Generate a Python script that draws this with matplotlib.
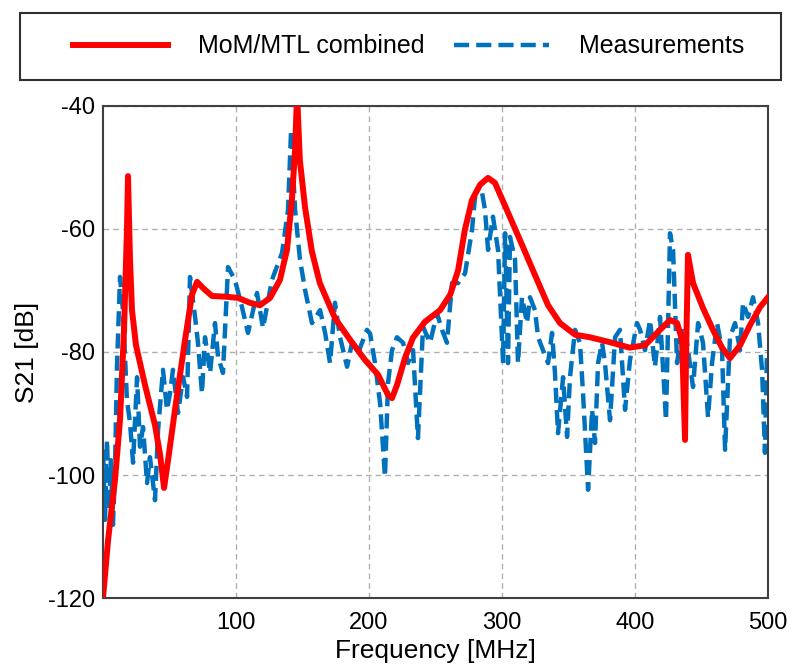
import matplotlib
matplotlib.use('Agg')
import matplotlib.pyplot as plt
from matplotlib.patches import Rectangle

plt.rcParams['font.family'] = ['Liberation Sans', 'DejaVu Sans']
plt.rcParams['axes.unicode_minus'] = False

# MoM/MTL combined model (frequency in MHz, S21 in dB)
model_freq = [0, 3.8, 9.0, 12.8, 15.8, 18.0, 18.8, 20.3, 21.8, 24.8, 31.6,
              39.1, 42.9, 45.9, 48.9, 54.1, 61.7, 66.9, 70.7, 75.2, 82.0,
              91.7, 101.5, 110.5, 118.0, 125.6, 133.0, 138.3, 142.0, 144.4,
              145.9, 148.0, 151.9, 157.0, 163.0, 174.4, 185.7, 197.0, 206.8,
              214.3, 217.3, 221.0, 227.0, 233.0, 242.0, 253.4, 261.0, 267.0,
              272.0, 277.4, 283.5, 289.5, 294.7, 302.0, 313.5, 324.8, 334.6,
              343.6, 355.0, 366.0, 381.0, 396.0, 407.5, 418.8, 426.3, 431.6,
              435.3, 437.6, 438.3, 439.8, 443.6, 451.0, 458.6, 465.4, 471.4,
              479.0, 486.5, 494.0, 500.0]
model_s21 = [-120, -110.6, -100.8, -91.0, -76.4, -60.2, -51.4, -65.0, -73.2,
             -78.9, -85.4, -91.9, -96.7, -102.1, -97.6, -89.4, -78.0, -70.7,
             -68.6, -69.6, -70.9, -71.0, -71.2, -72.0, -72.4, -71.2, -68.3,
             -63.4, -55.3, -47.2, -38.0, -48.8, -56.5, -63.6, -68.8, -74.5,
             -78.0, -81.3, -83.7, -87.0, -87.5, -85.4, -81.0, -77.7, -75.1,
             -73.2, -70.7, -66.7, -60.2, -55.3, -52.8, -51.7, -52.5, -56.1,
             -61.8, -67.5, -72.4, -75.3, -77.2, -77.6, -78.4, -79.3, -78.9,
             -76.4, -74.8, -75.3, -78.0, -94.3, -81.3, -64.2, -68.8, -72.8,
             -76.4, -79.3, -81.0, -78.9, -75.6, -72.7, -71.1]

# measurements
meas_freq = [0, 1.5, 3.0, 4.5, 6.0, 7.5, 9.0, 10.5, 12.8, 15.0, 18.0, 20.3,
             22.6, 25.6, 27.8, 30.1, 33.1, 35.3, 39.1, 41.4, 45.1, 48.1, 50.4,
             52.6, 56.4, 60.2, 63.2, 65.4, 69.2, 71.4, 74.4, 76.7, 80.5, 84.2,
             86.5, 90.2, 94.0, 99.2, 104.5, 109.0, 115.8, 120.3, 127.0, 134.6,
             139.1, 141.4, 144.4, 148.1, 151.9, 157.1, 163.2, 167.0, 170.7,
             174.4, 178.2, 183.5, 187.2, 191.7, 198.5, 200.8, 204.5, 208.3,
             212.0, 214.3, 217.3, 221.0, 225.6, 229.3, 233.1, 236.8, 240.6,
             245.9, 251.1, 254.9, 258.6, 262.4, 266.9, 272.2, 277.4, 279.7,
             285.0, 287.2, 289.5, 293.2, 297.0, 300.8, 302.3, 304.5, 306.0,
             309.8, 312.0, 315.0, 318.8, 321.0, 324.8, 327.1, 330.8, 334.6,
             337.6, 339.8, 342.1, 345.9, 348.9, 351.1, 354.9, 358.6, 360.9,
             364.7, 367.7, 369.9, 372.2, 375.2, 377.4, 381.2, 385.0, 388.7,
             392.5, 396.2, 401.5, 403.8, 407.5, 411.3, 415.0, 418.8, 423.3,
             426.3, 428.6, 431.6, 435.3, 439.1, 443.6, 447.4, 451.1, 454.9,
             457.9, 461.7, 465.4, 467.7, 471.4, 475.2, 479.0, 481.2, 485.0,
             488.7, 492.5, 495.5, 497.7, 499.2]
meas_s21 = [-95.9, -107.3, -94.3, -105.7, -97.6, -108.1, -99.2, -82.4, -67.8,
            -73.2, -87.8, -91.5, -98.0, -84.1, -95.4, -92.2, -101.3, -97.1,
            -104.1, -92.7, -82.9, -89.4, -86.7, -82.9, -89.9, -84.1, -87.3,
            -67.8, -74.3, -78.5, -86.7, -77.6, -83.4, -75.3, -80.8, -83.4,
            -66.2, -68.3, -72.7, -76.9, -70.4, -76.1, -68.3, -63.9, -56.9,
            -43.9, -56.9, -65.0, -69.9, -75.3, -73.2, -76.9, -81.8, -72.0,
            -77.6, -82.4, -78.5, -80.2, -76.4, -77.0, -81.8, -88.3, -100.3,
            -85.0, -79.7, -77.6, -78.5, -81.8, -79.7, -94.0, -75.9, -78.5,
            -73.7, -76.4, -78.5, -68.8, -68.8, -67.2, -60.2, -54.8, -54.1,
            -56.9, -63.4, -58.0, -63.4, -81.8, -60.7, -81.8, -61.3, -65.0,
            -81.8, -71.1, -75.3, -71.1, -73.2, -77.6, -79.7, -81.8, -76.9,
            -83.4, -93.2, -84.1, -93.8, -84.1, -76.4, -78.5, -86.7, -102.4,
            -89.4, -94.8, -81.8, -78.5, -81.8, -91.1, -77.6, -76.4, -89.4,
            -81.3, -75.3, -76.4, -79.7, -74.8, -82.4, -74.3, -91.1, -60.7,
            -63.4, -81.8, -75.9, -78.5, -85.7, -75.3, -78.5, -90.6, -81.8,
            -75.3, -79.7, -95.9, -77.6, -75.3, -79.7, -72.0, -74.3, -71.1,
            -75.3, -82.9, -96.4, -79.7]

x_ticks = [100, 200, 300, 400, 500]
y_ticks = [-120, -100, -80, -60, -40]

fig = plt.figure(figsize=(8.06, 6.69), dpi=100)
ax = fig.add_axes([0.1278, 0.1061, 0.8251, 0.7355])

l_meas, = ax.plot(meas_freq, meas_s21, color='#0072BD', lw=3.2,
                  linestyle=(0, (3.4, 1.6)), label='Measurements', zorder=2)
l_model, = ax.plot(model_freq, model_s21, color='#FF0000', lw=4.3,
                   solid_joinstyle='round', label='MoM/MTL combined',
                   zorder=3)

ax.set_xlim(0, 500)
ax.set_ylim(-120, -40)
ax.set_xticks(x_ticks)
ax.set_yticks(y_ticks)
ax.tick_params(length=0, labelsize=17)
ax.tick_params(axis='x', pad=10)
ax.tick_params(axis='y', pad=6)
ax.grid(True, color='#b0b0b0', linestyle=(0, (4, 3)), lw=1.0)
for s in ax.spines.values():
    s.set_color('#404040')
    s.set_linewidth(1.5)

ax.set_xlabel('Frequency [MHz]', fontsize=19, labelpad=4)
ax.set_ylabel('S21 [dB]', fontsize=19, labelpad=6)

# legend above the axes with its own frame
fig.legend([l_model, l_meas], ['MoM/MTL combined', 'Measurements'],
           loc='center', bbox_to_anchor=(0.507, 0.9305), ncol=2,
           frameon=False, fontsize=18, handlelength=3.8,
           handletextpad=1.2, columnspacing=1.2)
fig.patches.append(Rectangle((0.0248, 0.880), 0.944, 0.1006,
                             transform=fig.transFigure, fill=False,
                             edgecolor='#303030', lw=1.5))

fig.savefig('out.png', dpi=100)
